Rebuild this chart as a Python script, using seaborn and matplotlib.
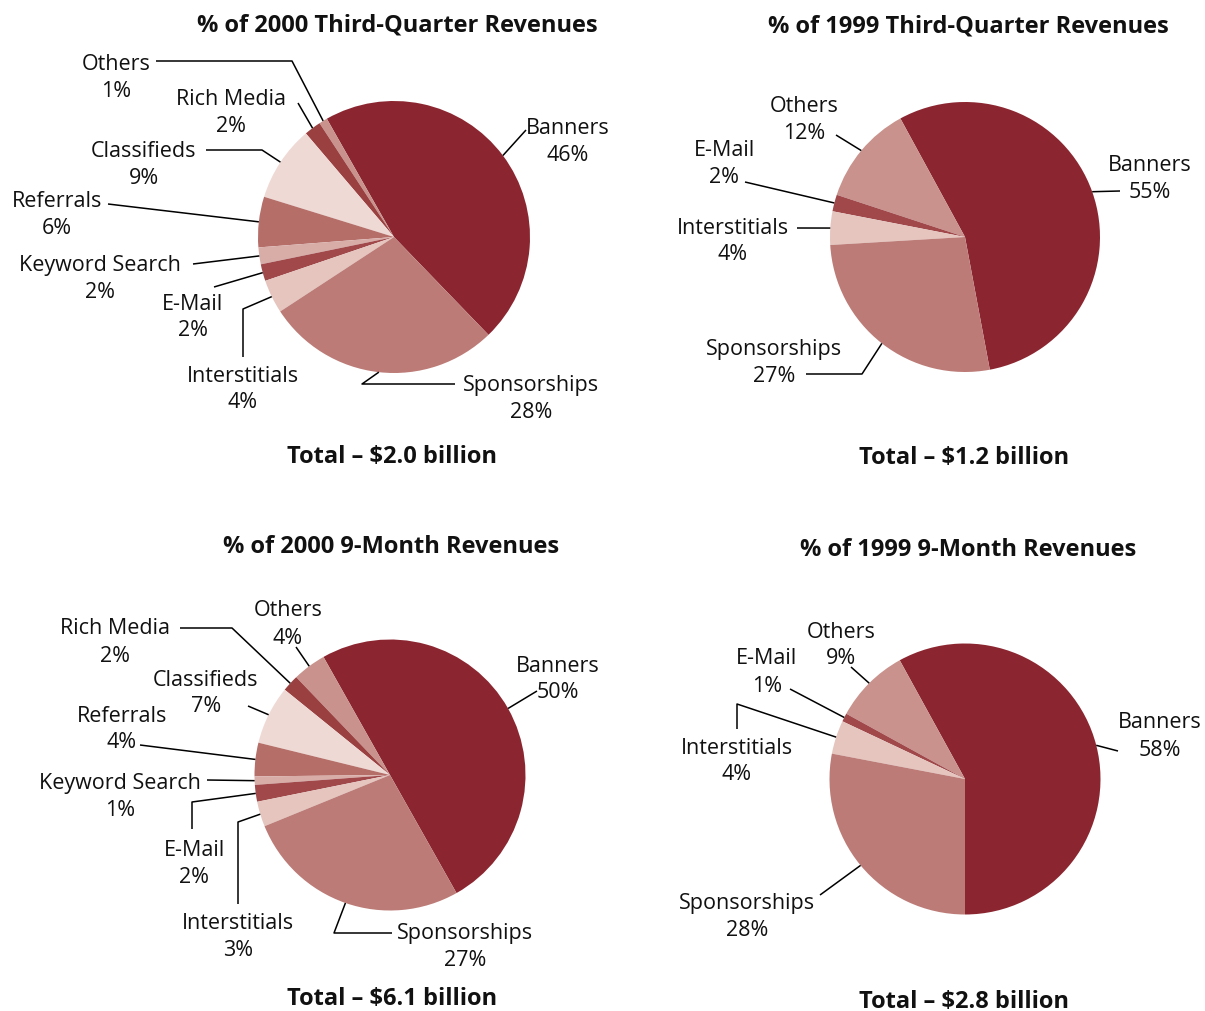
import numpy as np
import matplotlib
matplotlib.use("Agg")
import matplotlib.pyplot as plt
import seaborn as sns

# canvas size in pixels (layout coords below are pixels, y measured from top)
W, H = 1205, 1012

# ---- data ----
cats_full = ["Banners", "Others", "Rich Media", "Classifieds", "Referrals",
             "Keyword Search", "E-Mail", "Interstitials", "Sponsorships"]
cats_short = ["Banners", "Others", "E-Mail", "Interstitials", "Sponsorships"]

q3_2000 = [46, 1, 2, 9, 6, 2, 2, 4, 28]
q3_1999 = [55, 12, 2, 4, 27]
m9_2000 = [50, 4, 2, 7, 4, 1, 2, 3, 27]
m9_1999 = [58, 9, 1, 4, 28]

titles = ["% of 2000 Third-Quarter Revenues", "% of 1999 Third-Quarter Revenues",
          "% of 2000 9-Month Revenues", "% of 1999 9-Month Revenues"]
totals = ["Total \u2013 $2.0 billion", "Total \u2013 $1.2 billion",
          "Total \u2013 $6.1 billion", "Total \u2013 $2.8 billion"]

colors = {
    "Banners": "#8B2630",
    "Others": "#C9928C",
    "Rich Media": "#9A4040",
    "Classifieds": "#EFD9D5",
    "Referrals": "#B56E68",
    "Keyword Search": "#D8ADA8",
    "E-Mail": "#A0484A",
    "Interstitials": "#E5C5BE",
    "Sponsorships": "#BC7B76",
}

# ---- layout (pixels) ----
# center, radius, start angle, title y, total y, label text pos + leader elbows
layouts = [
    dict(cx=394, cy=238, r=136, start=-46, tx=397, ty=23, tot=(392, 455), labels={
        "Banners": ((568, 126), [(526, 131)]),
        "Others": ((116, 62), [(292, 62), (156, 62)]),
        "Rich Media": ((231, 97), [(298, 104)]),
        "Classifieds": ((144, 149), [(262, 151), (206, 151)]),
        "Referrals": ((57, 199), [(108, 205)]),
        "Keyword Search": ((100, 264), [(193, 265)]),
        "E-Mail": ((193, 302), [(214, 288)]),
        "Interstitials": ((243, 374), [(243, 310), (243, 358)]),
        "Sponsorships": ((531, 383), [(362, 385), (455, 385)]),
    }),
    dict(cx=965, cy=238, r=135, start=-79.4, tx=968, ty=24, tot=(964, 456), labels={
        "Banners": ((1150, 163), [(1120, 192)]),
        "Others": ((804, 104), [(836, 136)]),
        "E-Mail": ((724, 148), [(745, 183)]),
        "Interstitials": ((733, 226), [(797, 229)]),
        "Sponsorships": ((774, 348), [(862, 375), (806, 375)]),
    }),
    dict(cx=390, cy=776, r=135.5, start=-60.6, tx=391, ty=545, tot=(392, 997), labels={
        "Banners": ((558, 664), [(537, 692)]),
        "Others": ((288, 609), [(296, 648)]),
        "Rich Media": ((115, 627), [(232, 629), (180, 629)]),
        "Classifieds": ((206, 678), [(248, 707)]),
        "Referrals": ((122, 714), [(140, 746)]),
        "Keyword Search": ((120, 781), [(207, 781)]),
        "E-Mail": ((194, 849), [(192, 803), (192, 830)]),
        "Interstitials": ((238, 922), [(238, 823), (238, 905)]),
        "Sponsorships": ((465, 932), [(334, 934), (392, 934)]),
    }),
    dict(cx=965, cy=780, r=135.5, start=-90, tx=968, ty=548, tot=(964, 1000), labels={
        "Banners": ((1160, 721), [(1118, 752)]),
        "Others": ((841, 630), [(851, 668)]),
        "E-Mail": ((767, 657), [(790, 690)]),
        "Interstitials": ((737, 746), [(737, 705), (737, 730)]),
        "Sponsorships": ((747, 902), [(820, 896)]),
    }),
]

charts = [(cats_full, q3_2000), (cats_short, q3_1999),
          (cats_full, m9_2000), (cats_short, m9_1999)]

sns.set_theme(style="white")
plt.rcParams['font.family'] = ['Open Sans', 'DejaVu Sans']

fig = plt.figure(figsize=(W / 100, H / 100), dpi=100)
ax = fig.add_axes([0, 0, 1, 1])

LABEL_FS = 15.5
TITLE_FS = 17
TXT_DY = 2  # small nudge so the text sits like the reference


def fy(y):
    # pixel y (from top) -> data y
    return H - y


for (cats, vals), lay, title, total in zip(charts, layouts, titles, totals):
    wedges, _ = ax.pie(vals, colors=[colors[c] for c in cats], startangle=lay["start"],
                       counterclock=True, center=(lay["cx"], fy(lay["cy"])),
                       radius=lay["r"], wedgeprops=dict(linewidth=0), frame=True)

    for w, c, v in zip(wedges, cats, vals):
        (tx, ty), elbows = lay["labels"][c]
        mid = np.deg2rad((w.theta1 + w.theta2) / 2)
        ax_pt = (lay["cx"] + lay["r"] * np.cos(mid), fy(lay["cy"]) + lay["r"] * np.sin(mid))
        xs = [ax_pt[0]] + [p[0] for p in elbows]
        ys = [ax_pt[1]] + [fy(p[1]) for p in elbows]
        ax.plot(xs, ys, color="black", lw=1.1, solid_capstyle="butt")
        ax.text(tx, fy(ty + TXT_DY), c, ha="center", va="center", fontsize=LABEL_FS, color="#111111")
        ax.text(tx, fy(ty + 27 + TXT_DY), f"{v}%", ha="center", va="center",
                fontsize=LABEL_FS, color="#111111")

    ax.text(lay["tx"], fy(lay["ty"] + TXT_DY), title, ha="center", va="center",
            fontsize=TITLE_FS, fontweight="bold", color="#111111")
    ax.text(lay["tot"][0], fy(lay["tot"][1] + TXT_DY), total, ha="center", va="center",
            fontsize=TITLE_FS, fontweight="bold", color="#111111")

ax.set_xlim(0, W)
ax.set_ylim(0, H)
ax.set_aspect("auto")
ax.axis("off")

fig.savefig("out.png", dpi=100, facecolor="white")
